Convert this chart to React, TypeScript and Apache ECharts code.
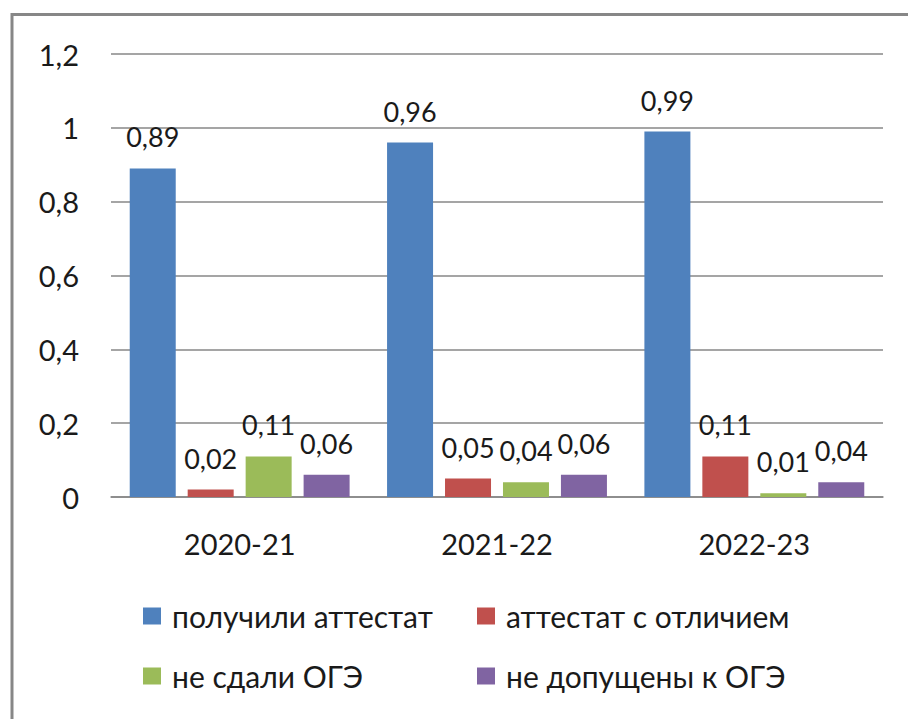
import React, { useEffect, useRef } from "react";
import * as echarts from "echarts";

const categories = ["2020-21", "2021-22", "2022-23"];
const seriesNames = [
  "получили аттестат",
  "аттестат с отличием",
  "не сдали ОГЭ",
  "не допущены к ОГЭ",
];
const received = [0.89, 0.96, 0.99];
const honours = [0.02, 0.05, 0.11];
const failed = [0.11, 0.04, 0.01];
const notAdmitted = [0.06, 0.06, 0.04];
const colors = ["#4F81BD", "#C0504D", "#9BBB59", "#8064A2"];

const FONT = "Lato, 'Liberation Sans', sans-serif";

export default function App() {
  const ref = useRef<HTMLDivElement>(null);
  useEffect(() => {
    document.body.style.margin = "0";
    if (!ref.current) return;
    const chart = echarts.init(ref.current, undefined, { renderer: "svg" });
    const values = [received, honours, failed, notAdmitted];
    const legendBase = {
      orient: "vertical" as const,
      padding: 0,
      itemWidth: 18,
      itemHeight: 17,
      itemGap: 30,
      icon: "rect",
      textStyle: { fontFamily: FONT, fontSize: 30, color: "#1a1a1a", padding: [0, 0, 0, 6] },
    };
    chart.setOption({
      animation: false,
      backgroundColor: "#fff",
      textStyle: { fontFamily: FONT },
      graphic: [
        {
          type: "rect",
          shape: { x: 12, y: 14.5, width: 1000, height: 1000 },
          style: { fill: "none", stroke: "#878787", lineWidth: 3 },
        },
      ],
      grid: { left: 111, right: 25, top: 54, bottom: 222 },
      legend: [
        { ...legendBase, left: 143, top: 601, data: [seriesNames[0], seriesNames[2]] },
        { ...legendBase, left: 477, top: 601, data: [seriesNames[1], seriesNames[3]] },
      ],
      xAxis: {
        type: "category",
        data: categories,
        axisLine: { show: true, lineStyle: { color: "#878787", width: 1.5 } },
        axisTick: { show: false },
        axisLabel: { fontFamily: FONT, fontSize: 29, color: "#1a1a1a", margin: 32 },
      },
      yAxis: {
        type: "value",
        min: 0,
        max: 1.2,
        interval: 0.2,
        axisLine: { show: false },
        axisTick: { show: false },
        splitLine: { lineStyle: { color: "#878787", width: 1.5 } },
        axisLabel: {
          fontFamily: FONT,
          fontSize: 29,
          color: "#1a1a1a",
          margin: 32,
          formatter: (v: number) => String(+v.toFixed(1)).replace(".", ","),
        },
      },
      series: seriesNames.map((name, i) => ({
        name,
        type: "bar",
        data: values[i],
        barWidth: 46,
        barGap: "26%",
        itemStyle: { color: colors[i] },
        label: {
          show: true,
          position: "top",
          distance: 18,
          fontFamily: FONT,
          fontSize: 27,
          color: "#1a1a1a",
          formatter: (p: any) => p.value.toFixed(2).replace(".", ","),
        },
      })),
    });
    return () => chart.dispose();
  }, []);
  return (
    <div
      ref={ref}
      style={{ position: "absolute", left: 0, top: 0, width: 908, height: 719 }}
    />
  );
}
